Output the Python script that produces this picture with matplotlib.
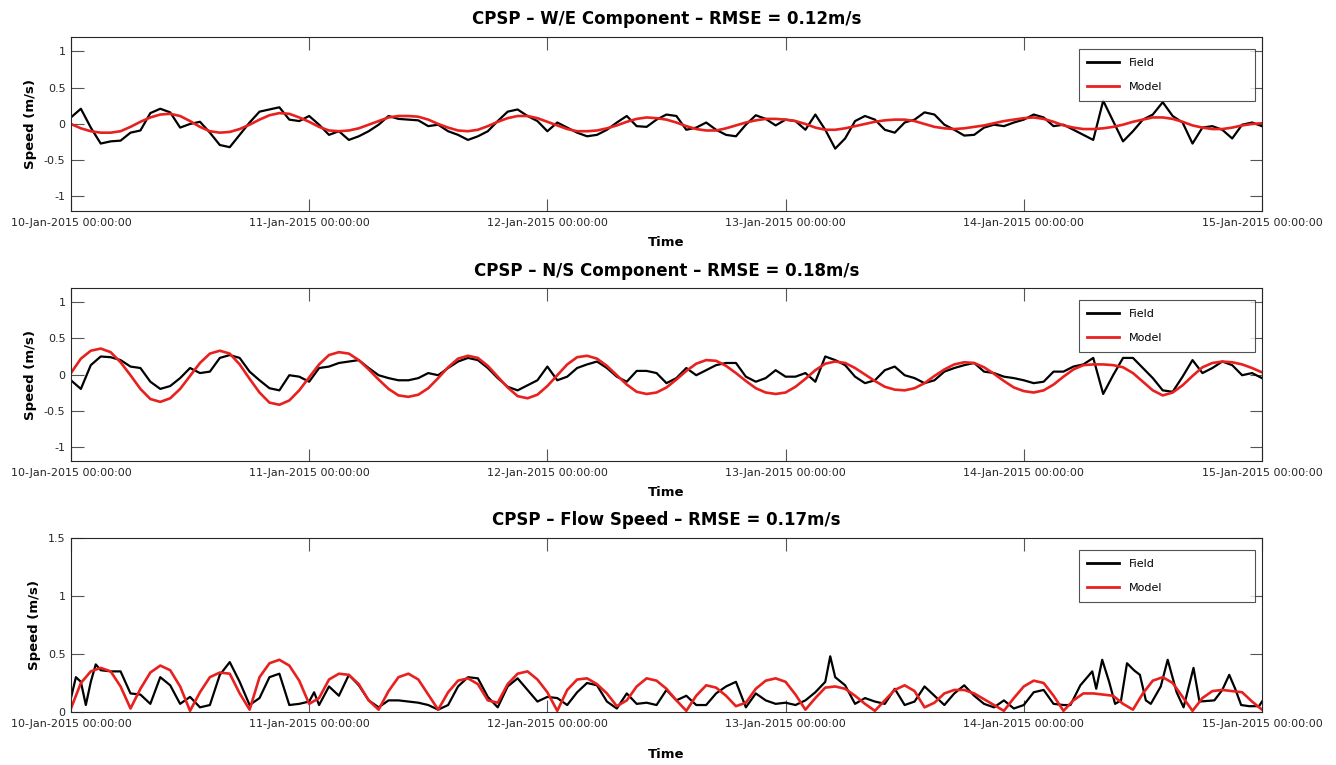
import numpy as np
import matplotlib
matplotlib.use('Agg')
import matplotlib.pyplot as plt
import matplotlib.dates as mdates

# ---------------- data (hours after 10-Jan-2015 00:00) ----------------
we_field = [0.09, 0.21, -0.05, -0.27, -0.24, -0.23, -0.12, -0.09, 0.15, 0.21,
            0.16, -0.05, 0.00, 0.03, -0.12, -0.29, -0.32, -0.15, 0.02, 0.17,
            0.20, 0.23, 0.06, 0.04, 0.11, -0.01, -0.15, -0.10, -0.22, -0.17,
            -0.10, -0.01, 0.11, 0.07, 0.06, 0.05, -0.03, -0.01, -0.10, -0.15,
            -0.22, -0.17, -0.10, 0.04, 0.17, 0.20, 0.11, 0.04, -0.10, 0.02,
            -0.05, -0.12, -0.17, -0.15, -0.08, 0.02, 0.11, -0.03, -0.04, 0.06,
            0.13, 0.11, -0.08, -0.05, 0.02, -0.08, -0.15, -0.17, -0.01, 0.12,
            0.07, -0.02, 0.06, 0.04, -0.08, 0.13, -0.08, -0.34, -0.20, 0.04,
            0.11, 0.06, -0.08, -0.12, 0.02, 0.06, 0.16, 0.13, -0.01, -0.08,
            -0.16, -0.15, -0.05, -0.01, -0.03, 0.02, 0.06, 0.13, 0.09, -0.03,
            -0.01, -0.08, -0.15, -0.22, 0.32, 0.04, -0.24, -0.10, 0.06, 0.13,
            0.30, 0.11, 0.02, -0.27, -0.05, -0.03, -0.08, -0.20, -0.01, 0.02,
            -0.03]
we_model = [0.00, -0.06, -0.10, -0.12, -0.12, -0.10, -0.04, 0.03, 0.09, 0.13,
            0.14, 0.11, 0.04, -0.04, -0.10, -0.12, -0.11, -0.07, -0.01, 0.06,
            0.12, 0.15, 0.14, 0.09, 0.03, -0.04, -0.09, -0.10, -0.09, -0.06,
            -0.01, 0.04, 0.09, 0.11, 0.11, 0.10, 0.06, 0.00, -0.05, -0.09,
            -0.10, -0.08, -0.03, 0.03, 0.08, 0.11, 0.11, 0.08, 0.03, -0.02,
            -0.07, -0.10, -0.10, -0.09, -0.06, -0.02, 0.03, 0.07, 0.09, 0.08,
            0.06, 0.02, -0.03, -0.07, -0.09, -0.09, -0.06, -0.02, 0.02, 0.05,
            0.07, 0.07, 0.06, 0.04, 0.00, -0.05, -0.08, -0.08, -0.06, -0.03,
            0.00, 0.03, 0.05, 0.06, 0.06, 0.04, 0.00, -0.04, -0.06, -0.07,
            -0.06, -0.04, -0.02, 0.01, 0.04, 0.06, 0.08, 0.09, 0.07, 0.03,
            -0.02, -0.05, -0.07, -0.07, -0.06, -0.04, -0.01, 0.03, 0.06, 0.09,
            0.09, 0.07, 0.03, -0.02, -0.05, -0.07, -0.07, -0.05, -0.02, 0.00,
            0.01]

ns_field = [-0.08, -0.20, 0.13, 0.25, 0.24, 0.20, 0.11, 0.09, -0.10, -0.20,
            -0.16, -0.05, 0.09, 0.02, 0.04, 0.23, 0.27, 0.23, 0.04, -0.08,
            -0.19, -0.22, -0.01, -0.03, -0.10, 0.09, 0.11, 0.16, 0.18, 0.20,
            0.09, -0.01, -0.05, -0.08, -0.08, -0.05, 0.02, -0.01, 0.09, 0.18,
            0.23, 0.20, 0.09, -0.05, -0.17, -0.22, -0.15, -0.08, 0.11, -0.08,
            -0.03, 0.09, 0.14, 0.18, 0.09, -0.03, -0.10, 0.05, 0.05, 0.02,
            -0.12, -0.05, 0.09, -0.01, 0.06, 0.13, 0.16, 0.16, -0.03, -0.10,
            -0.05, 0.06, -0.03, -0.03, 0.02, -0.10, 0.25, 0.20, 0.13, -0.03,
            -0.12, -0.08, 0.06, 0.11, -0.01, -0.05, -0.12, -0.08, 0.04, 0.09,
            0.13, 0.16, 0.04, 0.02, -0.03, -0.05, -0.08, -0.12, -0.10, 0.04,
            0.04, 0.11, 0.14, 0.23, -0.27, -0.01, 0.23, 0.23, 0.09, -0.05,
            -0.22, -0.24, -0.03, 0.20, 0.02, 0.09, 0.18, 0.13, -0.01, 0.02,
            -0.05]
ns_model = [0.02, 0.22, 0.33, 0.36, 0.31, 0.17, -0.01, -0.20, -0.34, -0.38,
            -0.33, -0.20, -0.02, 0.16, 0.29, 0.33, 0.29, 0.14, -0.06, -0.25,
            -0.39, -0.42, -0.36, -0.22, -0.04, 0.14, 0.27, 0.31, 0.29, 0.20,
            0.07, -0.07, -0.20, -0.29, -0.31, -0.28, -0.19, -0.05, 0.10, 0.22,
            0.26, 0.23, 0.12, -0.03, -0.18, -0.30, -0.33, -0.28, -0.16, -0.01,
            0.14, 0.24, 0.26, 0.22, 0.12, -0.01, -0.14, -0.24, -0.27, -0.25,
            -0.18, -0.07, 0.05, 0.15, 0.20, 0.19, 0.12, 0.02, -0.09, -0.19,
            -0.25, -0.27, -0.25, -0.17, -0.06, 0.06, 0.15, 0.18, 0.16, 0.09,
            0.00, -0.09, -0.17, -0.21, -0.22, -0.19, -0.12, -0.02, 0.07, 0.14,
            0.17, 0.16, 0.10, 0.01, -0.09, -0.18, -0.23, -0.25, -0.22, -0.14,
            -0.03, 0.07, 0.13, 0.14, 0.14, 0.13, 0.10, 0.02, -0.10, -0.22,
            -0.29, -0.25, -0.15, -0.02, 0.10, 0.16, 0.18, 0.17, 0.14, 0.09,
            0.03]

sp_field_t = [0, 0.5, 1, 1.5, 2, 2.5, 3, 4, 5, 6, 7, 8, 9, 10, 11, 12, 13, 14,
              15, 16, 17, 18, 19, 20, 21, 22, 23, 24, 24.5, 25, 26, 27, 28, 29,
              30, 31, 32, 33, 34, 35, 36, 37, 38, 39, 40, 41, 42, 43, 44, 45,
              46, 47, 48, 49, 50, 51, 52, 53, 54, 55, 56, 57, 58, 59, 60, 61,
              62, 63, 64, 65, 66, 67, 68, 69, 70, 71, 72, 73, 74, 75, 76, 76.5,
              77, 78, 79, 80, 81, 82, 83, 84, 85, 86, 87, 88, 89, 90, 91, 92,
              93, 94, 95, 96, 97, 98, 99, 100, 100.7, 101.7, 102.9, 103.3,
              103.9, 104.6, 105.2, 105.8, 106.4, 107.1, 107.7, 108.3, 108.8,
              109.8, 110.5, 111.4, 112.1, 113.1, 113.7, 115.2, 116.0, 116.7,
              117.3, 117.9, 118.7, 119.7, 120.0]
sp_field = [0.12, 0.30, 0.26, 0.06, 0.26, 0.41, 0.36, 0.35, 0.35, 0.16, 0.15,
            0.07, 0.30, 0.23, 0.07, 0.13, 0.04, 0.06, 0.32, 0.43, 0.26, 0.06,
            0.12, 0.30, 0.33, 0.06, 0.07, 0.09, 0.17, 0.06, 0.22, 0.14, 0.32,
            0.23, 0.10, 0.04, 0.10, 0.10, 0.09, 0.08, 0.06, 0.02, 0.06, 0.22,
            0.30, 0.29, 0.13, 0.04, 0.22, 0.29, 0.19, 0.09, 0.13, 0.12, 0.06,
            0.17, 0.25, 0.23, 0.09, 0.03, 0.16, 0.07, 0.08, 0.06, 0.19, 0.10,
            0.14, 0.06, 0.06, 0.16, 0.22, 0.26, 0.04, 0.16, 0.10, 0.07, 0.08,
            0.06, 0.10, 0.17, 0.26, 0.48, 0.30, 0.23, 0.07, 0.12, 0.09, 0.07,
            0.20, 0.06, 0.09, 0.22, 0.14, 0.06, 0.16, 0.23, 0.14, 0.07, 0.04,
            0.10, 0.03, 0.06, 0.17, 0.19, 0.07, 0.06, 0.06, 0.23, 0.35, 0.20,
            0.45, 0.26, 0.07, 0.10, 0.42, 0.36, 0.32, 0.10, 0.07, 0.22, 0.45,
            0.17, 0.04, 0.38, 0.09, 0.10, 0.19, 0.32, 0.20, 0.06, 0.05, 0.05,
            0.09]
sp_model = [0.03, 0.25, 0.35, 0.38, 0.35, 0.22, 0.03, 0.20, 0.34, 0.40,
            0.36, 0.22, 0.01, 0.17, 0.30, 0.34, 0.33, 0.16, 0.02, 0.30,
            0.42, 0.45, 0.40, 0.27, 0.07, 0.12, 0.28, 0.33, 0.32, 0.24,
            0.10, 0.02, 0.18, 0.30, 0.33, 0.28, 0.15, 0.02, 0.17, 0.27,
            0.29, 0.24, 0.10, 0.08, 0.24, 0.33, 0.35, 0.28, 0.17, 0.01,
            0.19, 0.28, 0.29, 0.24, 0.16, 0.05, 0.10, 0.22, 0.29, 0.27,
            0.20, 0.10, 0.01, 0.14, 0.23, 0.21, 0.14, 0.05, 0.08, 0.20,
            0.27, 0.29, 0.26, 0.15, 0.02, 0.12, 0.21, 0.22, 0.20, 0.14,
            0.07, 0.01, 0.10, 0.19, 0.23, 0.18, 0.04, 0.08, 0.16, 0.19,
            0.19, 0.16, 0.11, 0.06, 0.01, 0.12, 0.22, 0.27, 0.25, 0.14,
            0.01, 0.10, 0.16, 0.16, 0.15, 0.14, 0.07, 0.02, 0.16, 0.27,
            0.30, 0.25, 0.13, 0.01, 0.12, 0.18, 0.19, 0.18, 0.17, 0.09,
            0.02]

titles = ['CPSP \u2013 W/E Component \u2013 RMSE = 0.12m/s',
          'CPSP \u2013 N/S Component \u2013 RMSE = 0.18m/s',
          'CPSP \u2013 Flow Speed \u2013 RMSE = 0.17m/s']

# ---------------- helpers ----------------
START = np.datetime64('2015-01-10T00:00:00')


def to_time(hours):
    secs = np.round(np.asarray(hours, dtype=float) * 3600).astype('int64')
    return START + secs.astype('timedelta64[s]')


FIELD_C = 'black'
MODEL_C = '#e8201e'
AX_C = '#262626'

fig = plt.figure(figsize=(13.36, 7.65), dpi=100)
positions = [[0.0531, 0.7242, 0.8915, 0.2275],
             [0.0531, 0.3974, 0.8915, 0.2261],
             [0.0531, 0.0693, 0.8915, 0.2275]]

series = [
    (np.arange(len(we_field)), we_field, np.arange(len(we_model)), we_model),
    (np.arange(len(ns_field)), ns_field, np.arange(len(ns_model)), ns_model),
    (sp_field_t, sp_field, np.arange(len(sp_model)), sp_model),
]

for i, (pos, (tf, vf, tm, vm), title) in enumerate(zip(positions, series, titles)):
    ax = fig.add_axes(pos)
    ax.plot(to_time(tf), vf, color=FIELD_C, lw=1.6, label='Field')
    ax.plot(to_time(tm), vm, color=MODEL_C, lw=1.9, label='Model')
    ax.set_xlim(START, START + np.timedelta64(5, 'D'))
    if i < 2:
        ax.set_ylim(-1.2, 1.2)
        ax.set_yticks([-1, -0.5, 0, 0.5, 1])
        ax.set_yticklabels(['-1', '-0.5', '0', '0.5', '1'])
    else:
        ax.set_ylim(0, 1.5)
        ax.set_yticks([0, 0.5, 1, 1.5])
        ax.set_yticklabels(['0', '0.5', '1', '1.5'])
    ax.xaxis.set_major_locator(mdates.DayLocator())
    ax.xaxis.set_major_formatter(mdates.DateFormatter('%d-%b-%Y %H:%M:%S'))
    ax.tick_params(direction='in', length=9, width=0.8, top=True, right=True,
                   color='#555555', labelcolor=AX_C, labelsize=8)
    ax.tick_params(axis='x', pad=5)
    ax.tick_params(axis='y', pad=4)
    for s in ax.spines.values():
        s.set_color(AX_C)
        s.set_linewidth(0.8)
    ax.set_title(title, fontsize=12, fontweight='bold', pad=9, color='black')
    ax.set_xlabel('Time', fontsize=9.5, fontweight='bold',
                  labelpad=(6 if i < 2 else 14))
    ax.set_ylabel('Speed (m/s)', fontsize=9.5, fontweight='bold', labelpad=5)
    leg = ax.legend(loc='upper left', bbox_to_anchor=(0.846, 0.649, 0.148, 0.282),
                    mode='expand', fontsize=8, frameon=True, fancybox=False,
                    edgecolor=AX_C, handlelength=2.8, handletextpad=0.9,
                    borderpad=0.8, labelspacing=1.3, borderaxespad=0.0)
    leg.get_frame().set_linewidth(0.8)
    for line in leg.get_lines():
        line.set_linewidth(2.0)

fig.savefig('out.png', dpi=100, facecolor='white')
